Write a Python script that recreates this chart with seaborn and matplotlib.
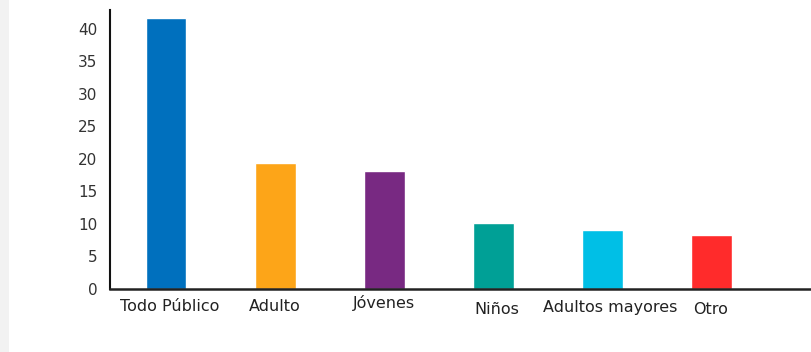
import matplotlib
matplotlib.use("Agg")
import matplotlib.pyplot as plt
import matplotlib.patches as mpatches
import matplotlib.transforms as mtransforms
import seaborn as sns
import pandas as pd

# Audience categories and their values
categories = ["Todo Público", "Adulto", "Jóvenes", "Niños", "Adultos mayores", "Otro"]
values = [41.6, 19.3, 18.1, 10.1, 9.0, 8.3]
colors = ["#0070BE", "#FDA518", "#782982", "#00A096", "#00BFE6", "#FF2B2B"]
y_ticks = [0, 5, 10, 15, 20, 25, 30, 35, 40]

sns.set_theme(style="white")
plt.rcParams["font.family"] = ["DejaVu Sans"]

df = pd.DataFrame({"categoria": categories, "valor": values})

fig = plt.figure(figsize=(8.11, 3.52), dpi=100)
fig.patch.set_facecolor("white")
# faint grey strip along the left edge
fig.patches.append(mpatches.Rectangle((0, 0), 9 / 811, 1, transform=fig.transFigure,
                                      facecolor="#f2f2f2", edgecolor="none", zorder=0))

ax = fig.add_axes([110 / 811, (352 - 289) / 352, 1 - 110 / 811, (289 - 10) / 352])
sns.barplot(data=df, x="categoria", y="valor", hue="categoria", order=categories,
            hue_order=categories, palette=colors, width=0.375, saturation=1,
            legend=False, ax=ax)

ax.set_xlim(-0.513, 5.907)
ax.set_ylim(0, 42.9)
ax.set_yticks(y_ticks)
ax.set_xlabel("")
ax.set_ylabel("")

for side in ["top", "right"]:
    ax.spines[side].set_visible(False)
ax.spines["left"].set_color("#111111")
ax.spines["left"].set_linewidth(1.5)
ax.spines["bottom"].set_color("#222222")
ax.spines["bottom"].set_linewidth(1.8)

ax.tick_params(axis="y", length=0, pad=9, labelsize=11, labelcolor="#333333")
ax.tick_params(axis="x", length=0, pad=7, labelsize=11.5, labelcolor="#222222")

# small per-label nudges (points) for the category labels
nudges = [(3, 0), (0, 0), (0, 3), (2, -2), (5, -1), (-1, -2)]
for lbl, (dx, dy) in zip(ax.get_xticklabels(), nudges):
    lbl.set_transform(lbl.get_transform() +
                      mtransforms.ScaledTranslation(dx / 72, dy / 72, fig.dpi_scale_trans))

fig.savefig("out.png", dpi=100, facecolor="white")
